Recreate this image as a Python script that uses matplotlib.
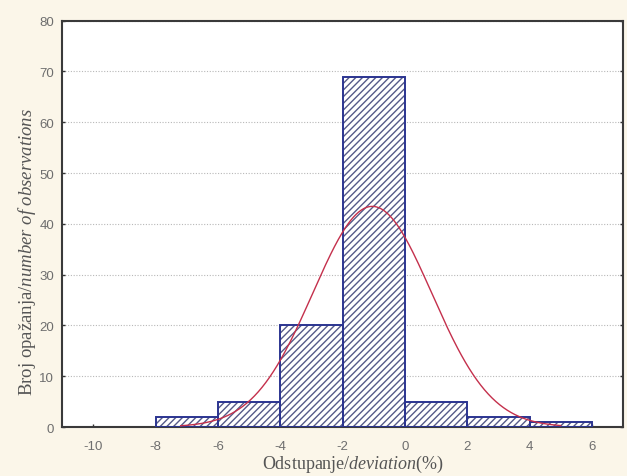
import numpy as np
import matplotlib
matplotlib.use("Agg")
import matplotlib.pyplot as plt

# ---- data ----
bin_left = [-8, -6, -4, -2, 0, 2, 4]
bin_width = 2
counts = [2, 5, 20, 69, 5, 2, 1]
curve_mean = -1.05
curve_sd = 1.91
x_ticks = [-10, -8, -6, -4, -2, 0, 2, 4, 6]
y_ticks = [0, 10, 20, 30, 40, 50, 60, 70, 80]

plt.rcParams['mathtext.fontset'] = 'custom'
plt.rcParams['mathtext.rm'] = 'Liberation Serif'
plt.rcParams['mathtext.it'] = 'Liberation Serif:italic'
plt.rcParams['hatch.linewidth'] = 1.0
plt.rcParams['axes.unicode_minus'] = False

W, H = 627, 477
fig = plt.figure(figsize=(W / 100, H / 100), dpi=100)
fig.patch.set_facecolor('#fbf6e9')
ax = fig.add_axes([0.0994, 0.1027, 0.8942, 0.8518])
ax.set_facecolor('white')

edge = '#2b3490'
hatch_col = '#555a88'

ax.bar(bin_left, counts, width=bin_width, align='edge', color='white',
       edgecolor=hatch_col, hatch='/////', linewidth=0, zorder=2)
ax.bar(bin_left, counts, width=bin_width, align='edge', fill=False,
       edgecolor=edge, linewidth=1.4, zorder=3)

n_total = sum(counts)
xs = np.linspace(-7.2, 5.0, 300)
ys = n_total * bin_width / (curve_sd * np.sqrt(2 * np.pi)) * np.exp(-0.5 * ((xs - curve_mean) / curve_sd) ** 2)
ax.plot(xs, ys, color='#c4304c', linewidth=1.0, zorder=4)

ax.set_xlim(-11, 7)
ax.set_ylim(0, 80)
ax.set_xticks(x_ticks)
ax.set_yticks(y_ticks)
ax.tick_params(axis='both', direction='in', length=2, width=1, colors='#333333',
               labelcolor='#6e6e6e', labelsize=9.5)
ax.tick_params(axis='x', pad=9)
ax.tick_params(axis='y', right=True, pad=6)
for lbl in ax.get_xticklabels() + ax.get_yticklabels():
    lbl.set_family('Liberation Sans')

ax.yaxis.grid(True, linestyle=(0, (1, 1.5)), color='#b8b8b8', linewidth=0.8, zorder=1)
ax.set_axisbelow(True)

for s in ax.spines.values():
    s.set_color('#3a3a3a')
    s.set_linewidth(1.5)

fig.text(353.5 / W, 1 - 464 / H, r'Odstupanje/$\mathit{deviation}$(%)', family='Liberation Serif',
         fontsize=13, color='#555555', ha='center', va='center')
fig.text(27 / W, 1 - 252 / H, r'Broj opažanja/$\mathit{number\ of\ observations}$', family='Liberation Serif',
         fontsize=13.5, color='#555555', ha='center', va='center', rotation=90)

fig.savefig('out.png', dpi=100, facecolor=fig.get_facecolor())
